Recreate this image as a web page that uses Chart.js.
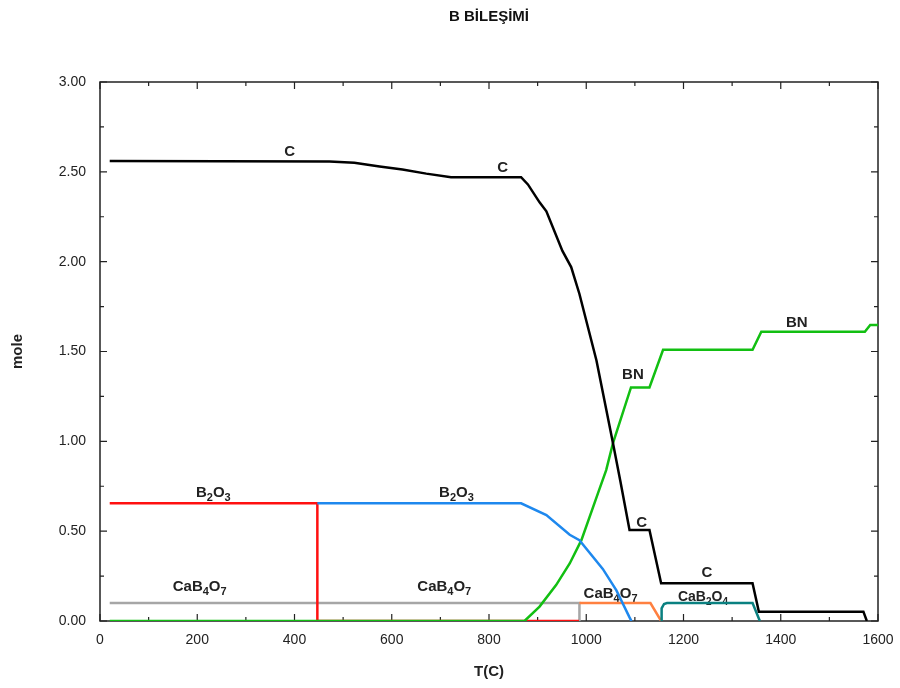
<!DOCTYPE html>
<html>
<head>
<meta charset="utf-8">
<script src="https://cdn.jsdelivr.net/npm/chart.js@4"></script>
<style>
  body { margin: 0; background: #fff; }
  #wrap { width: 900px; height: 688px; }
</style>
</head>
<body>
<div id="wrap"><canvas id="grafico"></canvas></div>
<script>
const titulo = "B BİLEŞİMİ";
const xTicks = [0, 200, 400, 600, 800, 1000, 1200, 1400, 1600];
const yTicks = [0, 0.5, 1, 1.5, 2, 2.5, 3];

// C (grafit)
const cT = [20, 472, 523, 575, 622, 671, 722, 866, 880, 904, 918, 951, 969, 986, 1021, 1055, 1070, 1089, 1130, 1154, 1342, 1355, 1570, 1577];
const cMol = [2.56, 2.557, 2.55, 2.53, 2.513, 2.49, 2.47, 2.47, 2.43, 2.33, 2.28, 2.06, 1.97, 1.82, 1.45, 0.99, 0.78, 0.506, 0.506, 0.21, 0.21, 0.052, 0.052, 0];
// BN
const bnT = [20, 873, 904, 938, 966, 990, 1024, 1041, 1055, 1092, 1130, 1158, 1342, 1360, 1573, 1584, 1600];
const bnMol = [0, 0, 0.08, 0.2, 0.32, 0.45, 0.71, 0.84, 0.99, 1.30, 1.30, 1.51, 1.51, 1.61, 1.61, 1.647, 1.647];
// B2O3 (kati)
const b2o3kT = [20, 447, 447, 985];
const b2o3kMol = [0.655, 0.655, 0, 0];
// B2O3 (sivi)
const b2o3sT = [447, 866, 918, 966, 986, 1034, 1062, 1089, 1093];
const b2o3sMol = [0.655, 0.655, 0.59, 0.48, 0.45, 0.29, 0.17, 0.02, 0];
// CaB4O7 (kati)
const cab4o7kT = [20, 986, 986];
const cab4o7kMol = [0.1, 0.1, 0];
// CaB4O7 (sivi)
const cab4o7sT = [986, 1132, 1154];
const cab4o7sMol = [0.1, 0.1, 0];
// CaB2O4
const cab2o4T = [1154, 1155, 1160, 1166, 1342, 1357];
const cab2o4Mol = [0, 0.07, 0.095, 0.1, 0.1, 0];

// etiketler: metin, T, mol  ("_" sonrasi alt indis)
const etiketText = ["C", "C", "BN", "BN", "C", "C", "B_2O_3", "B_2O_3", "CaB_4O_7", "CaB_4O_7", "CaB_4O_7", "CaB_2O_4"];
const etiketT = [390, 828, 1096, 1433, 1114, 1248, 233, 733, 205, 708, 1050, 1240];
const etiketMol = [2.61, 2.52, 1.37, 1.66, 0.545, 0.267, 0.712, 0.712, 0.19, 0.19, 0.15, 0.134];

const fuente = "'Liberation Sans', Arial, sans-serif";

function serie(t, m) {
  return t.map((v, i) => ({x: v, y: m[i]}));
}

function linea(label, t, m, color) {
  return {label, data: serie(t, m), borderColor: color, backgroundColor: color,
    borderWidth: 2.5, pointRadius: 0, tension: 0, fill: false};
}

// texto con subindices
function textoRico(ctx, txt, cx, cy, size) {
  const partes = [];
  let i = 0;
  while (i < txt.length) {
    if (txt[i] === "_") { partes.push({s: txt[i + 1], sub: true}); i += 2; }
    else { partes.push({s: txt[i], sub: false}); i++; }
  }
  const fNorm = "bold " + size + "px " + fuente;
  const fSub = "bold " + Math.round(size * 0.72) + "px " + fuente;
  let ancho = 0;
  partes.forEach(p => { ctx.font = p.sub ? fSub : fNorm; p.w = ctx.measureText(p.s).width; ancho += p.w; });
  let x = cx - ancho / 2;
  ctx.textAlign = "left";
  ctx.textBaseline = "middle";
  partes.forEach(p => {
    ctx.font = p.sub ? fSub : fNorm;
    ctx.fillText(p.s, x, p.sub ? cy + 5 : cy);
    x += p.w;
  });
}

const marco = {
  id: "marco",
  beforeDatasetsDraw(chart) {
    const ctx = chart.ctx;
    const a = chart.chartArea;
    const xs = chart.scales.x, ys = chart.scales.y;
    ctx.save();
    ctx.strokeStyle = "#222";
    ctx.lineWidth = 1.5;
    ctx.strokeRect(a.left, a.top, a.right - a.left, a.bottom - a.top);
    ctx.lineWidth = 1.2;
    ctx.beginPath();
    for (let v = 0; v <= 1600; v += 100) {
      const px = xs.getPixelForValue(v);
      const l = v % 200 === 0 ? 7 : 4;
      ctx.moveTo(px, a.bottom); ctx.lineTo(px, a.bottom - l);
      ctx.moveTo(px, a.top); ctx.lineTo(px, a.top + l);
    }
    for (let v = 0; v <= 3.0001; v += 0.25) {
      const py = ys.getPixelForValue(v);
      const l = Math.abs(v * 2 - Math.round(v * 2)) < 0.01 ? 7 : 4;
      ctx.moveTo(a.left, py); ctx.lineTo(a.left + l, py);
      ctx.moveTo(a.right, py); ctx.lineTo(a.right - l, py);
    }
    ctx.stroke();
    ctx.fillStyle = "#222";
    etiketText.forEach((t, i) => {
      textoRico(ctx, t, xs.getPixelForValue(etiketT[i]), ys.getPixelForValue(etiketMol[i]), t === "CaB_2O_4" ? 14 : 15);
    });
    // titulo centrado sobre el area
    ctx.fillStyle = "#111";
    ctx.font = "bold 15px " + fuente;
    ctx.textAlign = "center";
    ctx.textBaseline = "middle";
    ctx.fillText(titulo, (a.left + a.right) / 2, 17);
    ctx.restore();
  }
};

// Chart.js pinta el primer dataset encima
const ctxG = document.getElementById("grafico");
new Chart(ctxG, {
  type: "line",
  data: {
    datasets: [
      linea("C", cT, cMol, "#000000"),
      linea("CaB2O4", cab2o4T, cab2o4Mol, "#0a8080"),
      linea("B2O3 sivi", b2o3sT, b2o3sMol, "#1e88ee"),
      linea("CaB4O7 sivi", cab4o7sT, cab4o7sMol, "#ff8040"),
      linea("BN", bnT, bnMol, "#12bf12"),
      linea("B2O3 kati", b2o3kT, b2o3kMol, "#ff1010"),
      linea("CaB4O7 kati", cab4o7kT, cab4o7kMol, "#a6a6a6")
    ]
  },
  options: {
    responsive: true,
    maintainAspectRatio: false,
    animation: false,
    layout: {padding: {top: 82, right: 22, left: 0, bottom: 0}},
    plugins: {legend: {display: false}, title: {display: false}, tooltip: {enabled: false}},
    scales: {
      x: {
        type: "linear", min: 0, max: 1600,
        afterBuildTicks: s => { s.ticks = xTicks.map(v => ({value: v})); },
        afterFit: s => { s.height = 67; s.paddingLeft = 0; s.paddingRight = 0; },
        grid: {display: false, drawTicks: false},
        border: {display: false},
        ticks: {color: "#222", padding: 11, callback: v => String(v), font: {family: fuente, size: 14}},
        title: {display: true, text: "T(C)", color: "#222", padding: {top: 4, bottom: 7},
          font: {family: fuente, size: 15, weight: "bold"}}
      },
      y: {
        type: "linear", min: 0, max: 3,
        afterBuildTicks: s => { s.ticks = yTicks.map(v => ({value: v})); },
        afterFit: s => { s.width = 100; s.paddingTop = 0; s.paddingBottom = 0; },
        grid: {display: false, drawTicks: false},
        border: {display: false},
        ticks: {color: "#222", padding: 14, callback: v => Number(v).toFixed(2),
          font: {family: fuente, size: 14}},
        title: {display: true, text: "mole", color: "#222", padding: {top: 9, bottom: 0},
          font: {family: fuente, size: 15, weight: "bold"}}
      }
    }
  },
  plugins: [marco]
});
</script>
</body>
</html>
